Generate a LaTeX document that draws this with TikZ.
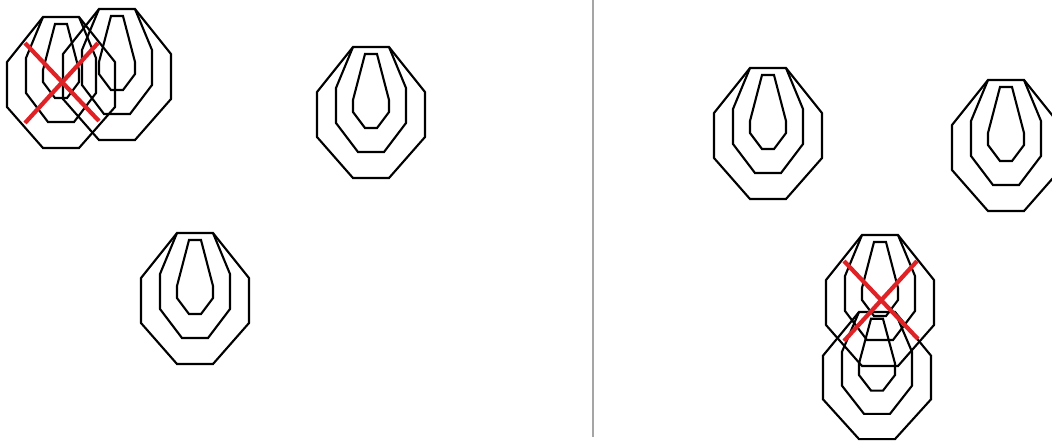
\documentclass[tikz,border=0pt]{standalone}
\usepackage{xcolor}
\usepackage{tikz}

\definecolor{hitred}{RGB}{222,34,38}
\definecolor{rulegray}{RGB}{165,165,165}

\begin{document}
\begin{tikzpicture}[
  x=0.02cm, y=-0.02cm,
  ring/.style={draw=black, line width=1.2pt, line join=miter},
  divider/.style={draw=rulegray, line width=0.8pt},
  miss/.style={draw=hitred, line width=2.4pt},
  target/.pic={
    \draw[ring] (-18,0) -- (18,0) -- (54,45) -- (54,90) -- (18,131) -- (-18,131) -- (-54,90) -- (-54,45) -- cycle;
    \draw[ring] (-18,0) -- (-35,41) -- (-35,76) -- (-13,105) -- (13,105) -- (35,76) -- (35,41) -- (18,0);
    \draw[ring] (-6,7) -- (6,7) -- (18,53) -- (18,65) -- (6,81) -- (-6,81) -- (-18,65) -- (-18,53) -- cycle;
  },
  cross/.pic={
    \draw[miss] (-36,26) -- (38,104);
    \draw[miss] (-36,106) -- (37,26);
  }
]
  \useasboundingbox (0,0) rectangle (1052,441);
  \clip (0,0) rectangle (1052,441);

  % left half
  \pic (hitL) at (61,17) {target};
  \pic (nextL) at (117,9) {target};
  \pic (farL) at (371,47) {target};
  \pic (lowL) at (195,233) {target};

  % divider
  \coordinate (divtop) at (593,0);
  \coordinate (divbot) at (593,437);
  \draw[divider] (divtop) -- (divbot);

  % right half
  \pic (farR) at (768,68) {target};
  \pic (edgeR) at (1006,80) {target};
  \pic (hitR) at (880,235) {target};
  \pic[yscale=0.97] (lowR) at (877,312) {target};

  % misses
  \pic at (61,17) {cross};
  \pic at (880,235) {cross};
\end{tikzpicture}
\end{document}
